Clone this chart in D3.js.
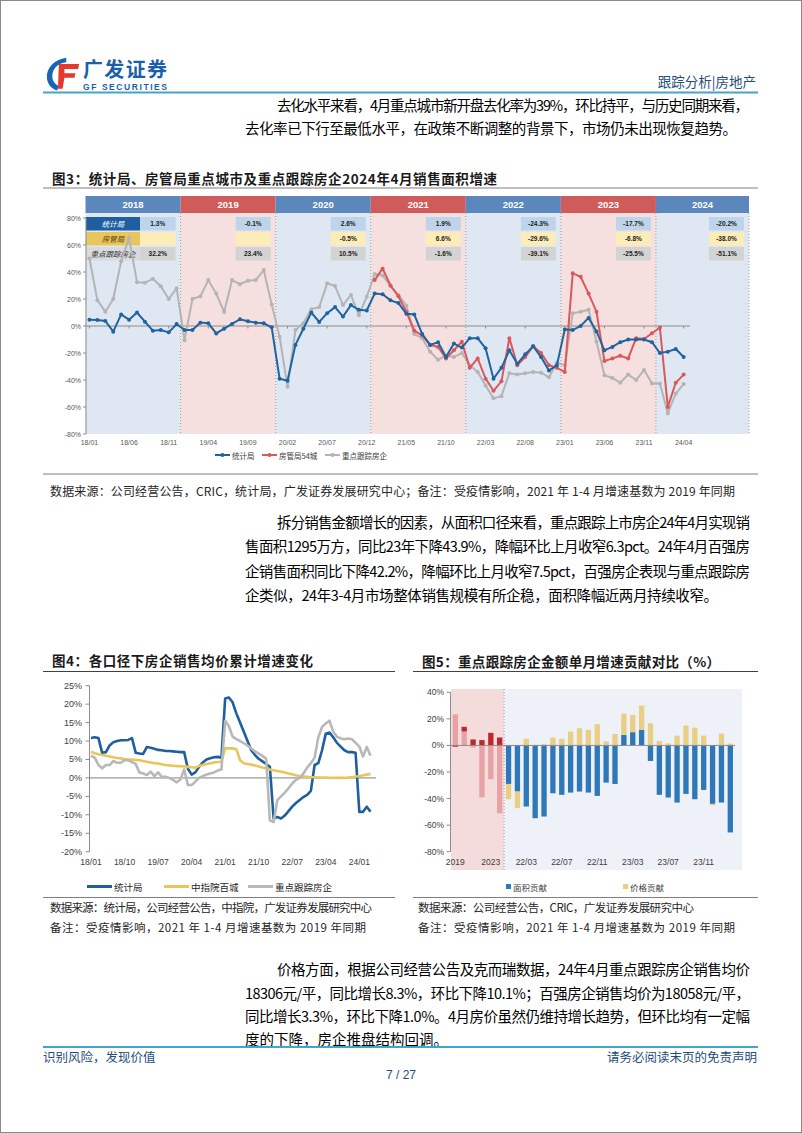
<!DOCTYPE html>
<html><head><meta charset="utf-8">
<script src="https://cdn.jsdelivr.net/npm/d3@7"></script>
<style>body{margin:0;background:#fff}svg{display:block}</style>
</head><body>
<svg id="c" width="802" height="1133"></svg>
<script>
// ---------------- DATA ----------------
// Figure 3: monthly YoY sales-area growth (%), 2018/01 .. 2024/04
const years3 = ["2018","2019","2020","2021","2022","2023","2024"];
const xTicks3 = ["18/01","18/06","18/11","19/04","19/09","20/02","20/07","20/12","21/05","21/10","22/03","22/08","23/01","23/06","23/11","24/04"];
const yTicks3 = [80,60,40,20,0,-20,-40,-60,-80];
const nbs3 = [4.7,4.4,3.7,-4.2,8.6,4.7,10,3.2,-3.5,-3,-4.7,1.5,
  -3,-3,2.5,2,-5.5,-2,1.5,5,3.5,2.5,2,-1,
  -39,-40.5,-14,-2,10,3,9.5,14,7,15.5,12,11.5,
  24,23.5,19,17,9,8.5,-6,-14,-12,-23,-13,-16,
  -9,-9,-16.5,-39,-31,-18,-28,-21,-15,-23,-33,-29,
  -2.5,-3,0,6,-4,-18,-15.5,-12,-10,-10,-10,-12,
  -20,-19,-17,-23];
const fgj3 = [null,null,null,null,null,null,null,null,null,null,null,null,
  null,null,null,null,null,null,null,null,null,null,null,null,
  null,null,null,null,null,null,null,null,null,null,null,null,
  34,42.5,30,22,10.5,-3.5,-7,-14,-15.5,-24,-18,-11.6,
  -31,-24,-39,-48,-41,-9,-29,-23,-15,-20,-29,-31,
  -34,39,36.5,24,10.6,-26,-24,-22,-24,-9,-9.6,-5.4,
  -1.2,-60,-42,-36];
const key3 = [50,19,10.6,20,48,65,32.5,32,35,29.5,20,28,
  -10.5,20,22,34,24,10.5,34,31,33.6,34,41.5,16,
  -8,-45,-3,2,12.5,14,31.6,29.6,15.5,23,8,21.7,
  38.5,37.5,29.6,23,15,-6,-9,-19,-25,-22,-23,-20,
  -29,-34,-44,-53.6,-52,-35,-36,-35,-34,-34.6,-38,-27,
  -29,9.4,10.6,12,-11.6,-36.5,-38.5,-42,-36,-40,-32.6,-42.5,
  -42.5,-64.7,-50,-43];
const tblNbs = ["1.3%","-0.1%","2.6%","1.9%","-24.3%","-17.7%","-20.2%"];
const tblFgj = ["","","-0.5%","6.6%","-29.6%","-6.8%","-38.0%"];
const tblKey = ["32.2%","23.4%","10.5%","-1.6%","-39.1%","-25.5%","-51.1%"];
const rowNames3 = ["统计局","房管局","重点跟踪房企"];
const legend3 = ["统计局","房管局54城","重点跟踪房企"];

// Figure 4: cumulative YoY average price growth (%), 2018/01 .. 2024/04
const xTicks4 = ["18/01","18/10","19/07","20/04","21/01","21/10","22/07","23/04","24/01"];
const yTicks4 = [25,20,15,10,5,0,-5,-10,-15,-20];
const nbs4 = [10.8,11,10.8,6.8,7,8.8,9.7,10,10.2,10.2,10.3,10.8,
  6.8,6.6,6.5,8.4,8.2,7.9,7.6,7.5,7.3,7.3,7.2,7.1,
  7,7,2.5,0.9,1.5,3,4.2,5,5.3,5.6,5.7,5.5,
  21.5,21.8,20.5,17.5,15,12.5,10,7.5,6.2,5.2,4.5,3.8,
  3,-11,-10.6,-11,-10.2,-9,-7.8,-6.8,-6,-5.2,-4.6,-3.5,
  3.5,4,7.5,12,12.3,11,9.5,8.5,7.5,7,7,6.8,
  -9.2,-9.2,-7.8,-9.2];
const cric4 = [7.1,6.7,6.4,6.2,6,5.8,5.6,5.4,5.3,5.1,5,5,
  4.9,4.8,4.6,4.4,4.2,4,3.9,3.7,3.5,3.4,3.3,3.2,
  3.2,3.1,3,2.9,2.8,3.2,3.5,3.8,4,4.2,4.3,4.4,
  8,8,8,7.8,4.8,4,3.8,3.6,3.4,3.1,2.8,2.6,
  2.3,2.1,1.9,1.7,1.5,1.2,1,0.7,0.5,0.4,0.3,0.2,
  0.2,0.1,0.1,0.1,0,0,0,0,0,0.1,0.2,0.3,
  0.5,0.7,0.9,1.1];
const key4 = [6,5.5,3.5,2.6,3.5,3.5,4.6,4.1,4.1,4.8,4.8,4.3,
  3.8,1.5,1.2,0.8,1.7,0.5,1.5,0.3,0.3,0,-0.5,-1.2,
  -0.4,2.3,-1.9,-1.9,-1,0,0.5,0.9,1.2,1.5,2,2.3,
  15.5,14,11.2,10.5,10,9.4,8.8,8,7.2,6.6,6,5.2,
  -11.5,-12,-6,-5,-4,-2.8,-1.5,-0.5,0,1.2,2.8,4,
  5.5,11,13.8,14.8,15.5,12.5,11.2,10.7,10.5,10.7,10.5,9.5,
  8.5,5.8,8.4,6];
const legend4 = ["统计局","中指院百城","重点跟踪房企"];

// Figure 5: contribution to monthly sales-amount growth (%)
const cats5 = ["2019","2020","2021","2022","2023","2024",
  "22/01","22/02","22/03","22/04","22/05","22/06","22/07","22/08","22/09","22/10","22/11","22/12",
  "23/01","23/02","23/03","23/04","23/05","23/06","23/07","23/08","23/09","23/10","23/11","23/12",
  "24/01","24/02"];
const xTicks5 = ["2019","2023","22/03","22/07","22/11","23/03","23/07","23/11"];
const yTicks5 = [40,20,0,-20,-40,-60,-80];
const area5 = [23.4,10.5,-1.6,-39.1,-25.5,-51.1,
  -29,-34.7,-46,-54.8,-53.5,-36,-37.2,-35.5,-34.7,-35.5,-38,-28,
  -29,8,10,11.7,-11.7,-37.2,-39.2,-43,-36.5,-40.5,-33.5,-44,
  -43,-65.5];
const price5 = [-1,3.5,4.5,4,9.5,6,
  -11.5,-12.5,5,0.5,1,6,5,10.4,13,11.7,16,3,
  8.6,16,13,18.3,16.7,3.4,1.6,7.4,15,13.4,7.4,-1,
  8.9,1.4];
const legend5 = ["面积贡献","价格贡献"];

// ---------------- HELPERS ----------------
const CJK = '"Noto Sans CJK SC", "Noto Sans", sans-serif';
const LAT = '"Liberation Sans", Arial, sans-serif';
const svg = d3.select("#c");
function T(g, x, y, s, o = {}) {
  const t = g.append("text").attr("x", x).attr("y", y).text(s)
    .attr("font-family", o.ff || CJK).attr("font-size", o.fs || 12)
    .attr("fill", o.fill || "#000").attr("dominant-baseline", "central")
    .attr("text-anchor", o.anchor || "start");
  if (o.fw) t.attr("font-weight", o.fw);
  if (o.fst) t.attr("font-style", o.fst);
  if (o.tl) t.attr("textLength", o.tl).attr("lengthAdjust", "spacing");
  return t;
}
function L(g, x1, y1, x2, y2, stroke, w, dash) {
  const l = g.append("line").attr("x1", x1).attr("y1", y1).attr("x2", x2).attr("y2", y2)
    .attr("stroke", stroke).attr("stroke-width", w || 1);
  if (dash) l.attr("stroke-dasharray", dash);
  return l;
}
const pct = v => v + "%";

// ---------------- PAGE ----------------
svg.append("rect").attr("x", 0.5).attr("y", 0.5).attr("width", 801).attr("height", 1132)
  .attr("fill", "#fff").attr("stroke", "#8a8a8a");

// logo
const logo = svg.append("g").attr("transform", "translate(46,57) scale(0.92,0.86)");
logo.append("path").attr("d", "M22 1 C9 3 0 13 1 25 C2 32 6 37 12 39 L14 34 C9 31 6 26 7 20 C8 12 14 7 22 6 Z").attr("fill", "#1766b5");
logo.append("path").attr("d", "M14 8 L36 8 L35 14 L20 14 L20 19 L32 19 L31 24 L20 24 L18 37 L13 37 Z").attr("fill", "#e5392b");
T(svg, 83, 68.5, "广发证券", {fs: 20, fw: "bold", fill: "#1b5faa", tl: 84});
T(svg, 83, 86.5, "GF SECURITIES", {fs: 8.5, fw: "bold", fill: "#1b5faa", ff: LAT, tl: 84});
T(svg, 756, 81, "跟踪分析|房地产", {fs: 13.5, fill: "#1f4e79", anchor: "end"});
L(svg, 43, 92.5, 758, 92.5, "#45a3cf", 2);

// paragraph 1
T(svg, 277, 104, "去化水平来看，4月重点城市新开盘去化率为39%，环比持平，与历史同期来看，", {fs: 14.5, tl: 472});
T(svg, 245, 127, "去化率已下行至最低水平，在政策不断调整的背景下，市场仍未出现恢复趋势。", {fs: 14.5, tl: 492});

// ---------------- FIGURE 3 ----------------
T(svg, 52, 178, "图3：统计局、房管局重点城市及重点跟踪房企2024年4月销售面积增速", {fs: 13.5, fw: "bold", fill: "#1a1a1a", tl: 445});
L(svg, 43, 188, 758, 188, "#7f7f7f", 1);

const g3 = svg.append("g");
const x3 = d3.scaleLinear().domain([-0.5, 83.5]).range([85.5, 751]);
const y3 = d3.scaleLinear().domain([-80, 80]).range([434, 218]);
const bandEdge = k => Math.min(x3(12 * k - 0.5), 749);
years3.forEach((yr, k) => {
  const x0 = bandEdge(k), x1 = bandEdge(k + 1), blue = k % 2 === 0;
  g3.append("rect").attr("x", x0).attr("y", 213).attr("width", x1 - x0).attr("height", 221)
    .attr("fill", blue ? "#dfe8f2" : "#f6dfdf");
  g3.append("rect").attr("x", x0).attr("y", 196).attr("width", x1 - x0).attr("height", 17)
    .attr("fill", blue ? "#5b87bd" : "#cf5b5b");
  T(g3, (x0 + x1) / 2, 204.5, yr, {ff: LAT, fs: 9.5, fw: "bold", fill: "#fff", anchor: "middle"});
  if (k > 0) L(g3, x0, 213, x0, 434, "#8c8c8c", 0.8, "1,2");
});
L(g3, bandEdge(7), 213, bandEdge(7), 434, "#8c8c8c", 0.8, "1,2");

// table
const rowY = [217, 232, 247], rowH = 13.5;
const lblFill = ["#1f5fa0", "#e9c55e", "#d6d6d6"], lblText = ["#fff", "#5b4300", "#333"];
const valFill = ["#bdd4ea", "#fbecb8", "#d3d3d3"];
rowNames3.forEach((nm, r) => {
  g3.append("rect").attr("x", 86).attr("y", rowY[r]).attr("width", 54).attr("height", rowH)
    .attr("fill", lblFill[r]).attr("opacity", r === 2 ? 0.75 : 1);
  T(g3, 113, rowY[r] + rowH / 2, nm, {fs: 7.5, fill: lblText[r], anchor: "middle", fst: "italic"});
});
[tblNbs, tblFgj, tblKey].forEach((arr, r) => {
  arr.forEach((v, k) => {
    const xr = bandEdge(k + 1) - 5;
    const xl = k === 0 ? 140 : xr - 35;
    g3.append("rect").attr("x", xl).attr("y", rowY[r]).attr("width", xr - xl).attr("height", rowH).attr("fill", valFill[r]);
    if (v) T(g3, (xl + xr) / 2, rowY[r] + rowH / 2, v, {ff: LAT, fs: 6.5, fw: "bold", fill: "#222", anchor: "middle"});
  });
});

// axes
L(g3, 86, 218, 86, 434, "#8c8c8c", 1);
yTicks3.forEach(v => {
  L(g3, 83, y3(v), 86, y3(v), "#8c8c8c", 1);
  T(g3, 81, y3(v), pct(v), {ff: LAT, fs: 7, fill: "#595959", anchor: "end"});
});
L(g3, 86, y3(0), 690, y3(0), "#8c8c8c", 1);
const mIdx = s => (+s.slice(0, 2) - 18) * 12 + (+s.slice(3) - 1);
xTicks3.forEach(s => {
  const xx = x3(mIdx(s));
  L(g3, xx, y3(0), xx, y3(0) + 2.5, "#8c8c8c", 1);
  T(g3, xx, 442, s, {ff: LAT, fs: 7, fill: "#595959", anchor: "middle"});
});

const series3 = [
  {d: key3, c: "#b4b4b4"},
  {d: fgj3, c: "#d9585a"},
  {d: nbs3, c: "#1e64a0"}
];
const line3 = d3.line().defined(d => d[1] != null).x(d => x3(d[0])).y(d => y3(d[1]));
series3.forEach(s => {
  const pts = s.d.map((v, i) => [i, v]);
  g3.append("path").attr("d", line3(pts)).attr("fill", "none").attr("stroke", s.c).attr("stroke-width", 2);
  g3.selectAll(null).data(pts.filter(p => p[1] != null)).enter().append("circle")
    .attr("cx", p => x3(p[0])).attr("cy", p => y3(p[1])).attr("r", 2).attr("fill", s.c);
});
// legend
const lg3x = [215, 262, 325], lg3c = ["#1e64a0", "#d9585a", "#b4b4b4"];
legend3.forEach((nm, i) => {
  L(g3, lg3x[i], 455, lg3x[i] + 15, 455, lg3c[i], 2);
  g3.append("circle").attr("cx", lg3x[i] + 7.5).attr("cy", 455).attr("r", 2).attr("fill", lg3c[i]);
  T(g3, lg3x[i] + 17, 455, nm, {fs: 7.5, fill: "#404040"});
});
L(svg, 43, 474, 758, 474, "#7f7f7f", 1);
T(svg, 50, 490, "数据来源：公司经营公告，CRIC，统计局，广发证券发展研究中心；备注：受疫情影响，2021 年 1-4 月增速基数为 2019 年同期", {fs: 12, fill: "#262626", tl: 685});

// paragraph 2
T(svg, 277, 521, "拆分销售金额增长的因素，从面积口径来看，重点跟踪上市房企24年4月实现销", {fs: 14.5, tl: 473});
T(svg, 245, 545.5, "售面积1295万方，同比23年下降43.9%，降幅环比上月收窄6.3pct。24年4月百强房", {fs: 14.5, tl: 505});
T(svg, 245, 570, "企销售面积同比下降42.2%，降幅环比上月收窄7.5pct，百强房企表现与重点跟踪房", {fs: 14.5, tl: 505});
T(svg, 245, 594.5, "企类似，24年3-4月市场整体销售规模有所企稳，面积降幅近两月持续收窄。", {fs: 14.5, tl: 473});

// ---------------- FIGURE 4 ----------------
T(svg, 52, 660, "图4：各口径下房企销售均价累计增速变化", {fs: 13.5, fw: "bold", fill: "#1a1a1a", tl: 261});
L(svg, 43, 671.5, 395, 671.5, "#404040", 1);
const g4 = svg.append("g");
const x4 = d3.scaleLinear().domain([0, 75]).range([91, 370.5]);
const y4 = d3.scaleLinear().domain([-20, 25]).range([851.7, 685.7]);
L(g4, 89.5, 685.7, 89.5, 851.7, "#8c8c8c", 1);
yTicks4.forEach(v => {
  L(g4, 85.5, y4(v), 89.5, y4(v), "#8c8c8c", 1);
  T(g4, 82, y4(v), pct(v), {ff: LAT, fs: 9, fill: "#404040", anchor: "end"});
});
L(g4, 89.5, y4(0), 376, y4(0), "#7f7f7f", 1);
xTicks4.forEach(s => T(g4, x4(mIdx(s)), 862, s, {ff: LAT, fs: 8.5, fill: "#404040", anchor: "middle"}));
const series4 = [
  {d: nbs4, c: "#1f5f9e"},
  {d: cric4, c: "#e8c65c"},
  {d: key4, c: "#b8b8b8"}
];
const line4 = d3.line().x((d, i) => x4(i)).y(d => y4(d));
series4.forEach(s => g4.append("path").attr("d", line4(s.d)).attr("fill", "none")
  .attr("stroke", s.c).attr("stroke-width", 2.6).attr("stroke-linejoin", "round"));
const lg4x = [87, 164, 248];
legend4.forEach((nm, i) => {
  L(g4, lg4x[i], 886.5, lg4x[i] + 25, 886.5, series4[i].c, 3);
  T(g4, lg4x[i] + 27, 886.5, nm, {fs: 9.5, fill: "#262626"});
});

// ---------------- FIGURE 5 ----------------
T(svg, 422, 660.5, "图5：重点跟踪房企金额单月增速贡献对比（%）", {fs: 13.5, fw: "bold", fill: "#1a1a1a", tl: 298});
L(svg, 413, 671.5, 758, 671.5, "#404040", 1);
const g5 = svg.append("g");
const x5 = d3.scaleBand().domain(cats5).range([450.9, 450.9 + 8.87 * cats5.length]).paddingInner(0.4).paddingOuter(0.2);
const y5 = d3.scaleLinear().domain([-80, 40]).range([851.7, 692.3]);
const split = x5.step() * 6 + 450.9;
g5.append("rect").attr("x", 451).attr("y", 689).attr("width", split - 451).attr("height", 181).attr("fill", "#f4dcdc");
g5.append("rect").attr("x", split).attr("y", 689).attr("width", 742 - split).attr("height", 181).attr("fill", "#eff1f8");
L(g5, split, 689, split, 870, "#8c8c8c", 0.8, "1,2");
const rows5 = cats5.map((c, i) => ({cat: c, area: area5[i], price: price5[i], annual: i < 6}));
const stack5 = d3.stack().keys(["area", "price"]).offset(d3.stackOffsetDiverging)(rows5);
const col5 = {area: ["#e8a2a5", "#2f78b7"], price: ["#c0262d", "#e9cf84"]};
stack5.forEach(layer => {
  g5.selectAll(null).data(layer).enter().append("rect")
    .attr("x", d => x5(d.data.cat)).attr("width", x5.bandwidth())
    .attr("y", d => y5(Math.max(d[0], d[1]))).attr("height", d => Math.abs(y5(d[0]) - y5(d[1])))
    .attr("fill", d => col5[layer.key][d.data.annual ? 0 : 1]);
});
L(g5, 450.5, 692.3, 450.5, 851.7, "#8c8c8c", 1);
yTicks5.forEach(v => {
  L(g5, 446.5, y5(v), 450.5, y5(v), "#8c8c8c", 1);
  T(g5, 444, y5(v), pct(v), {ff: LAT, fs: 8.5, fill: "#404040", anchor: "end"});
});
L(g5, 450.5, y5(0), 735, y5(0), "#8c8c8c", 1);
xTicks5.forEach(s => T(g5, x5(s) + x5.bandwidth() / 2, 861.5, s, {ff: LAT, fs: 8.5, fill: "#404040", anchor: "middle"}));
const lg5x = [506, 623], lg5c = ["#2f78b7", "#e9cf84"];
legend5.forEach((nm, i) => {
  g5.append("rect").attr("x", lg5x[i]).attr("y", 884).attr("width", 5).attr("height", 5).attr("fill", lg5c[i]);
  T(g5, lg5x[i] + 7, 886.5, nm, {fs: 8.5, fill: "#404040"});
});

// sources
L(svg, 43, 897.5, 395, 897.5, "#7f7f7f", 1);
L(svg, 413, 897.5, 758, 897.5, "#7f7f7f", 1);
T(svg, 50, 907, "数据来源：统计局，公司经营公告，中指院，广发证券发展研究中心", {fs: 11.5, fill: "#262626", tl: 322});
T(svg, 50, 927, "备注：受疫情影响，2021 年 1-4 月增速基数为 2019 年同期", {fs: 11.5, fill: "#262626", tl: 316});
T(svg, 418, 907, "数据来源：公司经营公告，CRIC，广发证券发展研究中心", {fs: 11.5, fill: "#262626", tl: 276});
T(svg, 418, 927, "备注：受疫情影响，2021 年 1-4 月增速基数为 2019 年同期", {fs: 11.5, fill: "#262626", tl: 317});

// paragraph 3
T(svg, 277, 968.5, "价格方面，根据公司经营公告及克而瑞数据，24年4月重点跟踪房企销售均价", {fs: 14.5, tl: 473});
T(svg, 245, 992, "18306元/平，同比增长8.3%，环比下降10.1%；百强房企销售均价为18058元/平，", {fs: 14.5, tl: 505});
T(svg, 245, 1015.5, "同比增长3.3%，环比下降1.0%。4月房价虽然仍维持增长趋势，但环比均有一定幅", {fs: 14.5, tl: 505});
T(svg, 245, 1038.5, "度的下降，房企推盘结构回调。", {fs: 14.5});

// footer
L(svg, 43, 1047, 758, 1047, "#45a3cf", 2);
T(svg, 43, 1056.5, "识别风险，发现价值", {fs: 12.5, fill: "#1f4e79"});
T(svg, 757, 1056.5, "请务必阅读末页的免责声明", {fs: 12.5, fill: "#1f4e79", anchor: "end"});
T(svg, 401, 1075, "7 / 27", {fs: 12, fill: "#1f4e79", anchor: "middle", ff: LAT});
</script>
</body></html>
